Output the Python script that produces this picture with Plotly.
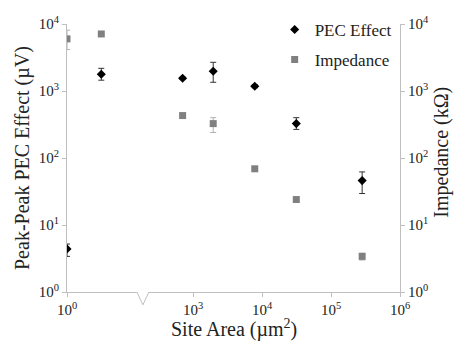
import numpy as np
import plotly.graph_objects as go

# Data
site_area = [1, 3.14, 707, 1963, 7854, 31416, 282743]          # um^2
pec_effect = [4.4, 1780, 1550, 1970, 1180, 326, 46]             # uV
pec_err_plus = [0.8, 400, 60, 710, 60, 74, 16]
pec_err_minus = [1.0, 330, 60, 620, 60, 59, 16.5]
impedance = [6000, 7100, 430, 326, 69, 24, 3.4]                 # kOhm
imp_err_plus = [2100, 300, 15, 74, 4, 2, 0.4]
imp_err_minus = [1850, 300, 15, 86, 4, 2, 0.4]

x_tick_vals = [1, 1e3, 1e4, 1e5, 1e6]
x_tick_text = ["10<sup>0</sup>", "10<sup>3</sup>", "10<sup>4</sup>", "10<sup>5</sup>", "10<sup>6</sup>"]
y_tick_vals = [1, 10, 100, 1000, 10000]
y_tick_text = ["10<sup>0</sup>", "10<sup>1</sup>", "10<sup>2</sup>", "10<sup>3</sup>", "10<sup>4</sup>"]

# broken log axis transform
BREAK_LOG = 1.10
SHIFT = 3 - 126 / 69


def u(x):
    lx = np.log10(x)
    return lx if lx < BREAK_LOG else lx - SHIFT


xu = [u(v) for v in site_area]
FONT = "Liberation Serif"
AX = "#bfbfbf"
TXT = "#222222"

fig = go.Figure()
fig.add_trace(go.Scatter(
    x=xu, y=pec_effect, mode="markers", name="PEC Effect", legendgroup="a",
    marker=dict(symbol="diamond", size=7, color="black"),
    error_y=dict(type="data", symmetric=False, array=pec_err_plus, arrayminus=pec_err_minus,
                 color="#333333", thickness=1, width=3),
))
fig.add_trace(go.Scatter(
    x=xu, y=impedance, mode="markers", name="Impedance", yaxis="y2", legendgroup="b",
    marker=dict(symbol="square", size=7, color="#808080"),
    error_y=dict(type="data", symmetric=False, array=imp_err_plus, arrayminus=imp_err_minus,
                 color="#b0b0b0", thickness=1, width=3),
))

axis_common = dict(showgrid=False, zeroline=False, showline=True, linecolor=AX, linewidth=1,
                   ticks="outside", ticklen=4, tickcolor=AX,
                   tickfont=dict(family=FONT, size=15, color=TXT))

fig.update_layout(
    width=454, height=341,
    margin=dict(l=67, r=54, t=19, b=49),
    paper_bgcolor="white", plot_bgcolor="white",
    showlegend=True,
    legend=dict(x=0.99, y=1.045, xanchor="right", yanchor="top", bgcolor="rgba(0,0,0,0)",
                font=dict(family=FONT, size=17, color=TXT), tracegroupgap=5,
                itemwidth=30),
    xaxis=dict(range=[0, 6 - SHIFT], tickvals=[u(v) for v in x_tick_vals], ticktext=x_tick_text,
               **axis_common),
    yaxis=dict(type="log", range=[0, 4], tickvals=y_tick_vals, ticktext=y_tick_text, **axis_common),
    yaxis2=dict(type="log", range=[0, 4], tickvals=y_tick_vals, ticktext=y_tick_text,
                overlaying="y", side="right", **axis_common),
)

# axis break marker (V notch)
bx = BREAK_LOG
dw = 6 / 69
fig.add_shape(type="line", xref="x", yref="paper", x0=bx - dw, x1=bx + dw, y0=0, y1=0,
              line=dict(color="white", width=3))
fig.add_shape(type="path", xref="x", yref="paper",
              path=f"M {bx - dw} 0 L {bx} -0.048 L {bx + dw} 0",
              line=dict(color=AX, width=1))

# axis titles
fig.add_annotation(text="Peak-Peak PEC Effect (\u00b5V)", xref="paper", yref="paper",
                   x=-45 / 333, y=0.5, textangle=-90, showarrow=False,
                   font=dict(family=FONT, size=20, color=TXT), xanchor="center", yanchor="middle")
fig.add_annotation(text="Impedance (k\u03a9)", xref="paper", yref="paper",
                   x=(442 - 67) / 333, y=0.52, textangle=-90, showarrow=False,
                   font=dict(family=FONT, size=20, color=TXT), xanchor="center", yanchor="middle")
fig.add_annotation(text="Site Area (\u00b5m<sup>2</sup>)", xref="paper", yref="paper",
                   x=0.5, y=-(329 - 292) / 273, showarrow=False,
                   font=dict(family=FONT, size=20, color=TXT), xanchor="center", yanchor="middle")

fig.write_html("out.html")
